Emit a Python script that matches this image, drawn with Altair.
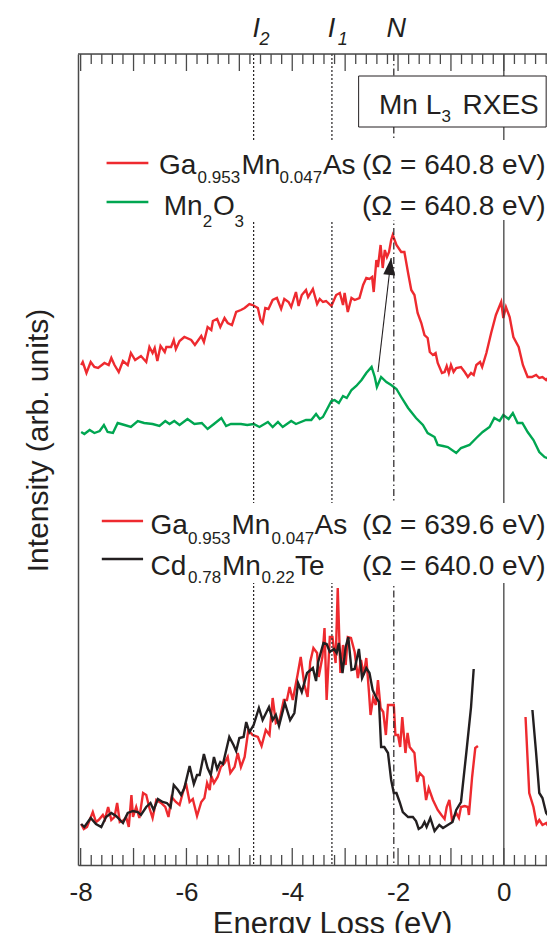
import altair as alt
import numpy as np
import pandas as pd

# ---------------- data ----------------
# Upper pair: Ga0.953Mn0.047As and Mn2O3, excitation 640.8 eV
ga_hi_E = [-7.99,-7.96,-7.89,-7.81,-7.74,-7.67,-7.55,-7.47,-7.42,-7.36,
           -7.28,-7.20,-7.11,-7.05,-6.97,-6.86,-6.76,-6.70,-6.64,-6.60,
           -6.55,-6.49,-6.41,-6.38,-6.29,-6.24,-6.20,-6.13,-6.04,-5.91,
           -5.84,-5.72,-5.67,-5.60,-5.53,-5.50,-5.42,-5.36,-5.28,-5.22,
           -5.14,-5.06,-4.97,-4.90,-4.81,-4.75,-4.65,-4.60,-4.56,-4.51,
           -4.45,-4.37,-4.29,-4.21,-4.15,-4.07,-4.02,-3.93,-3.88,-3.82,
           -3.74,-3.70,-3.61,-3.53,-3.48,-3.42,-3.36,-3.26,-3.17,-3.10,
           -3.04,-3.01,-2.95,-2.88,-2.82,-2.73,-2.66,-2.60,-2.54,-2.49,
           -2.46,-2.41,-2.38,-2.33,-2.29,-2.25,-2.21,-2.17,-2.13,-2.10,
           -2.03,-1.94,-1.88,-1.81,-1.75,-1.69,-1.63,-1.56,-1.50,-1.44,
           -1.40,-1.34,-1.29,-1.25,-1.17,-1.12,-1.08,-1.04,-1.00,-0.95,
           -0.90,-0.81,-0.74,-0.68,-0.62,-0.57,-0.52,-0.45,-0.41,-0.33,
           -0.24,-0.15,-0.05,-0.01,0.04,0.11,0.18,0.28,0.36,0.45,
           0.53,0.61,0.67,0.73,0.80,0.85,0.89,0.96]
ga_hi_I = [50.0,50.3,49.2,50.3,49.8,49.7,50.2,50.0,50.7,50.0,
           49.3,50.4,50.0,51.2,50.5,50.9,50.3,51.8,51.2,51.7,
           50.4,51.9,51.3,51.8,51.8,52.5,51.6,52.4,52.8,52.5,
           52.0,52.9,52.3,53.8,53.5,54.4,54.6,53.8,54.7,54.2,
           54.0,55.3,55.5,55.7,56.1,56.0,55.7,54.5,54.2,55.7,
           55.6,56.5,56.7,55.6,56.6,56.3,55.8,57.3,55.9,57.0,
           57.5,56.8,57.6,56.1,56.6,56.3,56.4,55.9,57.0,57.2,
           56.0,57.2,55.3,56.7,56.5,56.7,58.0,58.7,58.6,58.8,
           57.3,60.5,59.8,62.0,59.7,61.5,60.8,61.3,62.5,63.0,
           62.0,61.3,61.3,59.2,57.5,57.0,55.2,54.2,53.0,52.7,
           51.3,51.0,51.2,50.2,49.2,49.3,49.9,49.2,50.0,49.3,
           49.7,49.8,49.3,48.8,49.2,49.0,50.0,50.3,49.8,51.2,
           53.2,55.0,56.3,54.7,55.8,54.8,52.8,51.8,50.0,48.8,
           48.8,49.0,48.7,48.8,48.5,48.8,48.3,48.5]

mn2o3_E = [-7.99,-7.93,-7.83,-7.74,-7.64,-7.56,-7.49,-7.39,-7.30,-7.17,
           -7.05,-6.92,-6.80,-6.64,-6.51,-6.40,-6.32,-6.23,-6.13,-5.98,
           -5.85,-5.71,-5.60,-5.48,-5.34,-5.25,-5.16,-4.97,-4.85,-4.73,
           -4.62,-4.46,-4.37,-4.27,-4.18,-4.02,-3.93,-3.74,-3.64,-3.55,
           -3.48,-3.42,-3.32,-3.26,-3.20,-3.12,-3.04,-2.97,-2.88,-2.79,
           -2.69,-2.60,-2.50,-2.44,-2.40,-2.32,-2.22,-2.13,-2.03,-1.94,
           -1.81,-1.66,-1.53,-1.44,-1.31,-1.25,-1.15,-1.06,-0.90,-0.81,
           -0.65,-0.52,-0.40,-0.27,-0.18,-0.08,-0.01,0.09,0.17,0.26,
           0.35,0.45,0.56,0.67,0.77,0.86,0.96]
mn2o3_I = [43.3,43.1,43.5,43.2,43.4,44.0,43.3,43.2,44.2,44.0,
           43.8,44.4,44.2,44.1,43.9,44.4,44.1,44.4,44.0,44.6,
           44.1,44.2,43.6,44.1,44.7,43.9,44.1,44.1,44.0,44.1,
           43.8,44.3,43.8,44.3,43.8,44.4,44.1,44.5,44.5,45.1,
           44.6,44.8,45.8,46.4,46.5,46.2,46.9,46.7,47.5,47.9,
           48.5,49.2,49.8,48.8,47.8,48.8,48.3,48.0,47.6,46.8,
           45.7,44.7,44.0,43.2,42.8,42.0,41.9,41.8,41.2,41.7,
           42.0,42.7,43.3,43.8,44.7,44.4,45.0,44.6,45.2,44.2,
           44.2,43.3,42.5,41.3,40.8,40.6,40.2]

# Lower pair: Ga0.953Mn0.047As (639.6 eV) and Cd0.78Mn0.22Te (640.0 eV); elastic region removed
ga_lo_E1 = [-7.99,-7.94,-7.88,-7.77,-7.71,-7.66,-7.58,-7.54,-7.48,-7.42,
            -7.36,-7.31,-7.26,-7.18,-7.14,-7.09,-7.04,-7.01,-6.95,-6.89,
            -6.82,-6.76,-6.70,-6.64,-6.57,-6.48,-6.40,-6.34,-6.28,-6.20,
            -6.13,-6.07,-6.01,-5.94,-5.88,-5.80,-5.72,-5.66,-5.61,-5.56,
            -5.53,-5.48,-5.41,-5.35,-5.28,-5.22,-5.17,-5.09,-5.03,-4.97,
            -4.90,-4.83,-4.75,-4.65,-4.58,-4.50,-4.43,-4.37,-4.31,-4.24,
            -4.16,-4.10,-4.05,-3.99,-3.90,-3.84,-3.77,-3.71,-3.66,-3.60,
            -3.53,-3.50,-3.43,-3.39,-3.35,-3.29,-3.24,-3.18,-3.14,-3.09,
            -3.04,-2.99,-2.95,-2.89,-2.82,-2.76,-2.70,-2.65,-2.60,-2.55,
            -2.52,-2.47,-2.42,-2.38,-2.33,-2.28,-2.23,-2.19,-2.13,-2.08,
            -2.05,-2.00,-1.96,-1.92,-1.86,-1.82,-1.78,-1.69,-1.64,-1.59,
            -1.52,-1.47,-1.42,-1.34,-1.25,-1.18,-1.12,-1.08,-1.03,-0.98,
            -0.90,-0.85,-0.81,-0.74,-0.68,-0.66,-0.60,-0.54,-0.49]
ga_lo_I1 = [4.1,3.6,3.8,5.3,4.3,4.5,5.0,4.6,5.8,4.5,
            4.8,6.2,4.3,4.5,4.8,3.8,7.0,4.8,5.8,4.7,
            7.2,7.0,5.7,4.7,6.5,6.2,5.8,4.8,6.8,6.3,
            6.0,7.2,8.2,6.3,6.6,4.9,6.3,6.7,8.2,7.5,
            8.9,8.2,8.8,9.8,10.2,10.8,9.2,9.8,11.2,9.8,
            10.8,13.5,13.0,12.8,11.9,13.5,13.0,16.7,14.2,14.5,
            16.5,16.5,17.8,16.5,19.0,20.8,18.0,16.8,20.3,21.7,
            21.2,18.8,20.8,23.7,16.5,22.8,22.8,20.2,27.7,19.2,
            22.0,20.0,22.8,22.7,21.3,18.7,20.5,19.0,20.7,17.3,
            15.0,16.7,16.0,18.5,15.7,15.3,13.0,16.0,16.0,16.0,
            13.0,13.0,11.8,14.8,11.2,13.2,11.8,11.2,8.3,9.2,
            8.8,6.5,7.7,6.5,5.5,5.0,4.6,5.8,6.5,4.5,
            5.2,4.7,5.8,5.9,5.8,5.0,8.8,11.7,11.9]
ga_lo_E2 = [0.41,0.48,0.56,0.62,0.67,0.73,0.80,0.86,0.92]
ga_lo_I2 = [14.8,7.2,5.8,4.1,4.5,4.0,4.2,3.7,3.0]

cd_E1 = [-7.99,-7.93,-7.81,-7.71,-7.61,-7.52,-7.42,-7.33,-7.20,-7.11,
         -7.01,-6.92,-6.86,-6.76,-6.68,-6.62,-6.54,-6.45,-6.37,-6.30,
         -6.24,-6.16,-6.10,-6.04,-5.94,-5.86,-5.80,-5.75,-5.67,-5.60,
         -5.54,-5.48,-5.42,-5.36,-5.31,-5.19,-5.11,-5.06,-5.00,-4.92,
         -4.87,-4.81,-4.73,-4.63,-4.56,-4.44,-4.37,-4.31,-4.25,-4.14,
         -4.04,-3.96,-3.89,-3.82,-3.72,-3.61,-3.55,-3.51,-3.41,-3.35,
         -3.29,-3.21,-3.16,-3.12,-3.05,-2.99,-2.94,-2.88,-2.82,-2.74,
         -2.68,-2.60,-2.54,-2.48,-2.41,-2.36,-2.32,-2.26,-2.19,-2.13,
         -2.08,-2.03,-1.97,-1.91,-1.81,-1.72,-1.66,-1.61,-1.55,-1.50,
         -1.46,-1.39,-1.31,-1.22,-1.15,-1.06,-0.97,-0.90,-0.81,-0.71,
         -0.62,-0.57]
cd_I1 = [4.1,3.8,4.7,4.1,3.8,4.8,5.2,4.9,4.2,5.2,
         5.4,5.3,5.0,5.8,6.2,5.5,6.6,6.3,6.2,5.8,
         8.0,7.5,7.0,7.7,9.9,8.1,9.0,9.0,11.1,9.7,
         9.0,10.8,9.6,10.3,10.1,12.8,12.0,11.4,12.7,12.8,
         14.3,13.3,14.0,15.7,14.5,15.8,14.5,15.0,13.9,16.2,
         14.5,15.2,18.2,17.3,19.2,19.7,18.4,20.3,22.2,22.1,
         21.3,21.6,21.2,22.2,19.2,21.8,22.8,19.5,19.6,21.6,
         18.7,19.7,19.2,17.5,16.7,16.3,11.8,11.8,11.2,8.5,
         7.2,7.2,6.3,5.3,4.8,4.8,4.4,3.6,3.8,4.3,
         3.8,4.7,3.4,4.0,3.7,4.0,4.3,5.5,6.3,11.2,
         15.8,19.6]
cd_E2 = [0.54,0.61,0.67,0.73,0.80,0.86,0.92]
cd_I2 = [15.5,11.2,7.2,6.7,5.2,4.8,4.0]

# reference lines (eV)
line_names = ["I2", "I1", "N", "zero"]
line_E = [-4.73, -3.25, -2.08, 0.0]

# arrow from Mn2O3 feature to Ga(Mn)As feature
arrow_E = [-2.38, -2.13]
arrow_I = [49.3, 60.7]

# ---------------- styling ----------------
FONT = "Liberation Sans"
INK = "#231F20"
AXC = "#4a4a4a"
RED = "#EE2A2F"
GREEN = "#00A651"
W, H = 469, 811
XMIN = -8.05
XMAX = XMIN + W / 52.9
xs = alt.Scale(domain=[XMIN, XMAX], nice=False, zero=False)
ys = alt.Scale(domain=[0, 81.1], nice=False, zero=False)

xaxis = alt.Axis(values=[-8, -6, -4, -2, 0], labelExpr="'' + datum.value",
                 ticks=False, tickSize=0, grid=False, domain=True,
                 domainColor=AXC, domainWidth=1.5,
                 labelFont=FONT, labelFontSize=26, labelColor=INK,
                 labelPadding=35, labelBaseline="alphabetic",
                 labelFlush=False, labelOverlap=False,
                 title="Energy Loss (eV)", titleFont=FONT, titleFontSize=31,
                 titleFontWeight="normal", titleColor=INK,
                 titleX=254, titleY=68, titleBaseline="alphabetic", titleAlign="center")
yaxis = alt.Axis(labels=False, ticks=False, tickSize=0, grid=False, domain=True,
                 domainColor=AXC, domainWidth=1.5,
                 title="Intensity (arb. units)", titleFont=FONT, titleFontSize=30,
                 titleFontWeight="normal", titleColor=INK, titleAngle=270,
                 titleX=-31, titleY=386, titleAlign="center", titleBaseline="alphabetic")


def X(f="E"):
    return alt.X(f"{f}:Q", scale=xs, axis=xaxis)


def Y(f="I"):
    return alt.Y(f"{f}:Q", scale=ys, axis=yaxis)


# ---------------- build tables ----------------
rows = []
series = [
    ("ga_hi", [(ga_hi_E, ga_hi_I)]),
    ("mn2o3", [(mn2o3_E, mn2o3_I)]),
    ("ga_lo", [(ga_lo_E1, ga_lo_I1), (ga_lo_E2, ga_lo_I2)]),
    ("cd", [(cd_E1, cd_I1), (cd_E2, cd_I2)]),
]
for name, segs in series:
    for k, (ee, ii) in enumerate(segs):
        for e, i in zip(ee, ii):
            rows.append({"E": e, "I": i, "series": name, "seg": f"{name}_{k}"})
curves_df = pd.DataFrame(rows)
lines_df = pd.DataFrame({"name": line_names, "E": line_E})
cscale = alt.Scale(domain=["ga_hi", "mn2o3", "ga_lo", "cd"], range=[RED, GREEN, RED, INK])

curves = alt.Chart(curves_df).mark_line(strokeWidth=2.4, clip=True).encode(
    x=X(), y=Y(),
    color=alt.Color("series:N", scale=cscale, legend=None),
    detail="seg:N",
)

# vertical reference lines
vbase = alt.Chart(lines_df)
dotted = vbase.transform_filter(alt.FieldOneOfPredicate(field="name", oneOf=["I2", "I1"])).mark_rule(
    color=INK, strokeWidth=1.2, strokeDash=[2, 2]).encode(x=X(), y=alt.value(0), y2=alt.value(H))
dashdot = vbase.transform_filter(alt.datum.name == "N").mark_rule(
    color=INK, strokeWidth=1.2, strokeDash=[7, 3, 1.5, 3]).encode(x=X(), y=alt.value(0), y2=alt.value(H))
solid = vbase.transform_filter(alt.datum.name == "zero").mark_rule(
    color="#333333", strokeWidth=1.2).encode(x=X(), y=alt.value(0), y2=alt.value(H))

# white boxes behind the legends
boxes_df = pd.DataFrame({"x1": [-7.64, -7.70], "x2": [XMAX, XMAX],
                         "y1": [64.5, 28.2], "y2": [72.5, 36.2]})
boxes = alt.Chart(boxes_df).mark_rect(color="white").encode(
    x=X("x1"), x2="x2:Q", y=Y("y1"), y2="y2:Q")

title_box_df = pd.DataFrame({"x1": [-2.745], "x2": [0.80], "y1": [73.8], "y2": [78.9]})
title_box = alt.Chart(title_box_df).mark_rect(fill="white", stroke=INK, strokeWidth=1).encode(
    x=X("x1"), x2="x2:Q", y=Y("y1"), y2="y2:Q")

# legend sample lines
leg_df = pd.DataFrame({"x1": [-7.51, -7.51, -7.60, -7.60], "x2": [-6.72, -6.72, -6.82, -6.82],
                       "y": [70.2, 66.3, 34.4, 30.6], "series": ["ga_hi", "mn2o3", "ga_lo", "cd"]})
leg_lines = alt.Chart(leg_df).mark_rule(strokeWidth=2.4).encode(
    x=X("x1"), x2="x2:Q", y=Y("y"),
    color=alt.Color("series:N", scale=cscale, legend=None))

# text pieces (subscripts are separate, smaller pieces)
txt_left = pd.DataFrame([
    ("Ga", -6.52, 69.1, 28), ("0.953", -5.79, 68.2, 17), ("Mn", -4.96, 69.1, 28),
    ("0.047", -4.24, 68.2, 17), ("As", -3.42, 69.1, 28),
    ("Mn", -6.43, 65.0, 28), ("2", -5.69, 63.8, 17), ("O", -5.50, 65.0, 28), ("3", -5.09, 63.8, 17),
    ("Ga", -6.68, 33.1, 28), ("0.953", -5.97, 32.1, 17), ("Mn", -5.15, 33.1, 28),
    ("0.047", -4.39, 32.1, 17), ("As", -3.58, 33.1, 28),
    ("Cd", -6.68, 29.0, 28), ("0.78", -5.97, 28.2, 17), ("Mn", -5.33, 29.0, 28),
    ("0.22", -4.58, 28.2, 17), ("Te", -3.95, 29.0, 28),
    ("Mn L", -2.36, 75.1, 28), ("3", -1.18, 74.3, 17),
], columns=["t", "E", "I", "fs"])
txt_right = pd.DataFrame([
    ("(Ω = 640.8 eV)", 0.79, 69.1, 28), ("(Ω = 640.8 eV)", 0.79, 65.0, 28),
    ("(Ω = 639.6 eV)", 0.79, 33.1, 28), ("(Ω = 640.0 eV)", 0.79, 29.0, 28),
    ("RXES", 0.66, 75.1, 28),
], columns=["t", "E", "I", "fs"])
txt_top = pd.DataFrame([
    ("I", -4.75, 82.8, 27), ("2", -4.62, 82.0, 18),
    ("I", -3.33, 82.8, 27), ("1", -3.14, 82.0, 18),
    ("N", -2.22, 82.8, 27),
], columns=["t", "E", "I", "fs"])


def texts(df, align, style="normal"):
    return alt.Chart(df).mark_text(align=align, baseline="alphabetic", font=FONT,
                                   color=INK, fontStyle=style).encode(
        x=X(), y=Y(), text="t:N", size=alt.Size("fs:Q", scale=None))


t_left = texts(txt_left, "left")
t_right = texts(txt_right, "right")
t_top = texts(txt_top, "left", "italic")

# arrow
arrow_df = pd.DataFrame({"E": [arrow_E[0]], "I": [arrow_I[0]], "E2": [arrow_E[1]], "I2": [arrow_I[1]]})
shaft = alt.Chart(arrow_df).mark_rule(color=INK, strokeWidth=1.1).encode(
    x=X(), y=Y(), x2="E2:Q", y2="I2:Q")
head = alt.Chart(arrow_df).mark_point(shape="M0,0L0.35,1L-0.35,1Z", size=1156, filled=True,
                                      color=INK, opacity=1, angle=6.6).encode(
    x=X("E2"), y=Y("I2"))

# inward ticks on bottom and top frame + top frame line
tick_vals = np.round(np.arange(-8.0, 0.81, 0.2), 1)
ticks_df = pd.DataFrame({"t": tick_vals})
ticks_df["major"] = np.isclose(ticks_df["t"], np.round(ticks_df["t"]))
tb = alt.Chart(ticks_df)
maj = tb.transform_filter(alt.datum.major)
mnr = tb.transform_filter(~alt.datum.major)
tk = dict(color=AXC, strokeWidth=1.3, clip=True)
ticks = [
    maj.mark_rule(**tk).encode(x=X("t"), y=alt.value(H), y2=alt.value(H - 17)),
    mnr.mark_rule(**tk).encode(x=X("t"), y=alt.value(H), y2=alt.value(H - 10)),
    maj.mark_rule(**tk).encode(x=X("t"), y=alt.value(0), y2=alt.value(17)),
    mnr.mark_rule(**tk).encode(x=X("t"), y=alt.value(0), y2=alt.value(10)),
]
top_line = alt.Chart(pd.DataFrame({"a": [0]})).mark_rule(color=AXC, strokeWidth=1.5).encode(
    x=alt.value(0), x2=alt.value(W), y=alt.value(0))

chart = alt.layer(
    curves, dotted, dashdot, solid, boxes, title_box, leg_lines,
    t_left, t_right, t_top, shaft, head, top_line, *ticks
).properties(
    width=W, height=H,
    padding={"left": 70, "top": 46, "right": 0, "bottom": 68},
    autosize=alt.AutoSizeParams(type="none"),
).configure_view(stroke=None).configure(background="white")

chart.save("out.html", embed_options={"renderer": "svg", "actions": False})
